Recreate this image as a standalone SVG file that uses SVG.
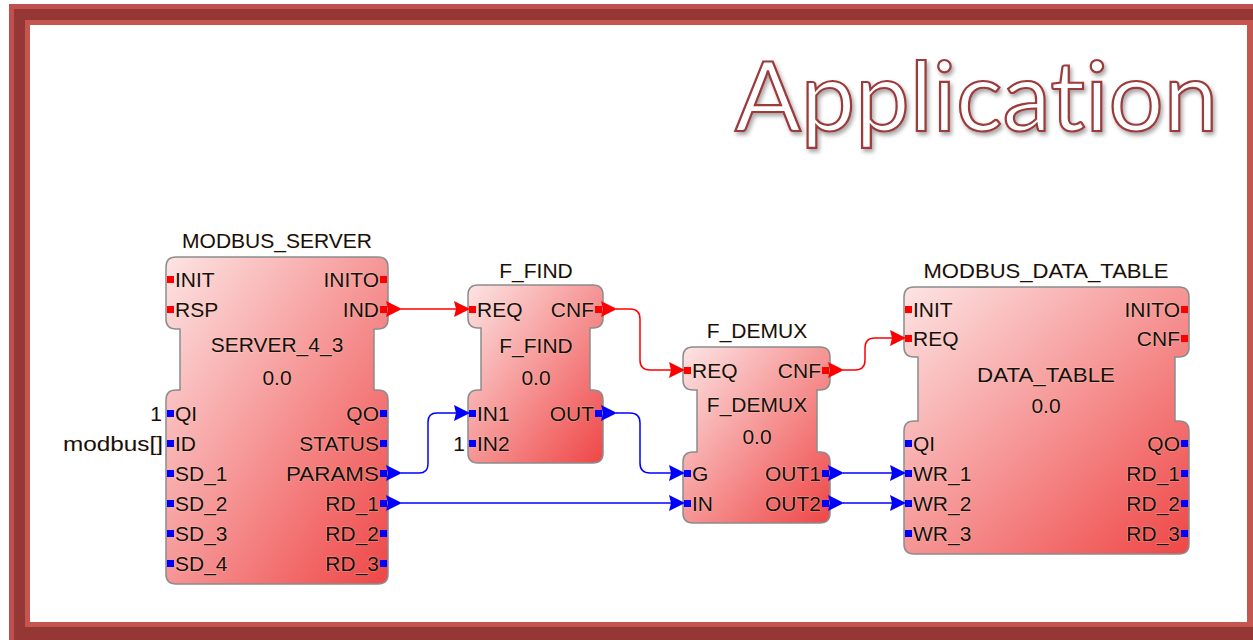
<svg xmlns="http://www.w3.org/2000/svg" xmlns:xlink="http://www.w3.org/1999/xlink" width="1253" height="640" viewBox="0 0 1253 640">
<style>
.t{font-family:"Liberation Sans",Arial,sans-serif;font-size:21px;fill:#161010;stroke:rgba(255,235,190,0.35);stroke-width:1.2px;paint-order:stroke}
.e{text-anchor:end}
.m{text-anchor:middle}
.blk{fill:url(#g);stroke:#8c8c8c;stroke-width:1.5}
.ev{fill:#ff0000}
.dt{fill:#0000ff}
.cr{fill:none;stroke:#ff0000;stroke-width:1.5}
.cb{fill:none;stroke:#0000ff;stroke-width:1.5}
.title{font-family:Lato,"Open Sans",sans-serif;font-weight:400;font-size:96px;fill:#ffffff;stroke:#9b3a3a;stroke-width:2.2;font-variant-ligatures:none;font-feature-settings:"liga" 0}
</style>
<defs>
<linearGradient id="g" x1="0" y1="0" x2="1" y2="1">
<stop offset="0" stop-color="#fde4e4"/>
<stop offset="1" stop-color="#ef4646"/>
</linearGradient>
<filter id="sh" x="-5%" y="-20%" width="115%" height="150%">
<feDropShadow dx="2" dy="3" stdDeviation="2" flood-color="#000" flood-opacity="0.35"/>
</filter>
<path id="ah" d="M-16,-8 L0,0 L-16,8 L-14,0 Z"/>
</defs>

<g id="frame">
<rect x="9" y="4" width="1300" height="700" fill="#c0504d"/>
<rect x="14" y="9" width="1300" height="700" fill="#953735"/>
<rect x="25" y="20" width="1240" height="607" fill="#c4564f"/>
<rect x="30" y="25" width="1217" height="597" fill="#ffffff"/>
</g>

<text id="title" class="title" x="735" y="131" textLength="483" lengthAdjust="spacingAndGlyphs" filter="url(#sh)">Application</text>

<g id="connectors">
<path class="cr" d="M401,309 H456"/>
<path class="cr" d="M616,309 H630 Q640,309 640,319 V360 Q640,370 650,370 H671"/>
<path class="cr" d="M843,370 H855 Q865,370 865,360 V348 Q865,338 875,338 H892"/>
<path class="cb" d="M401,473 H419 Q428,473 428,464 V422 Q428,413 437,413 H456"/>
<path class="cb" d="M401,503 H671"/>
<path class="cb" d="M616,413 H630 Q640,413 640,423 V463 Q640,473 650,473 H671"/>
<path class="cb" d="M843,473 H892"/>
<path class="cb" d="M843,503 H892"/>
</g>

<g id="modbus_server">
<text class="t m" x="277" y="248">MODBUS_SERVER</text>
<path class="blk" d="M176,257 H378 Q388,257 388,267 V319 Q388,329 378,329 H374 V390 H378 Q388,390 388,400 V574 Q388,584 378,584 H176 Q166,584 166,574 V400 Q166,390 176,390 H180 V329 H176 Q166,329 166,319 V267 Q166,257 176,257 Z"/>
<rect class="ev" x="167" y="276" width="7" height="7"/>
<rect class="ev" x="167" y="306" width="7" height="7"/>
<rect class="ev" x="380" y="276" width="7" height="7"/>
<rect class="ev" x="380" y="306" width="7" height="7"/>
<use href="#ah" class="ev" transform="translate(402,309)"/>
<rect class="dt" x="167" y="410" width="7" height="7"/>
<rect class="dt" x="167" y="440" width="7" height="7"/>
<rect class="dt" x="167" y="470" width="7" height="7"/>
<rect class="dt" x="167" y="500" width="7" height="7"/>
<rect class="dt" x="167" y="530" width="7" height="7"/>
<rect class="dt" x="167" y="560" width="7" height="7"/>
<rect class="dt" x="380" y="410" width="7" height="7"/>
<rect class="dt" x="380" y="440" width="7" height="7"/>
<rect class="dt" x="380" y="470" width="7" height="7"/>
<rect class="dt" x="380" y="500" width="7" height="7"/>
<rect class="dt" x="380" y="530" width="7" height="7"/>
<rect class="dt" x="380" y="560" width="7" height="7"/>
<use href="#ah" class="dt" transform="translate(402,473)"/>
<use href="#ah" class="dt" transform="translate(402,503)"/>
<text class="t" x="175" y="287">INIT</text>
<text class="t" x="175" y="317">RSP</text>
<text class="t e" x="379" y="287">INITO</text>
<text class="t e" x="379" y="317">IND</text>
<text class="t m" x="277" y="352">SERVER_4_3</text>
<text class="t m" x="277" y="385">0.0</text>
<text class="t" x="175" y="421">QI</text>
<text class="t" x="175" y="451">ID</text>
<text class="t" x="175" y="481">SD_1</text>
<text class="t" x="175" y="511">SD_2</text>
<text class="t" x="175" y="541">SD_3</text>
<text class="t" x="175" y="571">SD_4</text>
<text class="t e" x="379" y="421">QO</text>
<text class="t e" x="379" y="451">STATUS</text>
<text class="t e" x="379" y="481" textLength="93" lengthAdjust="spacingAndGlyphs">PARAMS</text>
<text class="t e" x="379" y="511">RD_1</text>
<text class="t e" x="379" y="541">RD_2</text>
<text class="t e" x="379" y="571">RD_3</text>
<text class="t e" x="162" y="421">1</text>
<text class="t e" x="163" y="451" textLength="100" lengthAdjust="spacingAndGlyphs">modbus[]</text>
</g>

<g id="f_find">
<text class="t m" x="536" y="278">F_FIND</text>
<path class="blk" d="M478,285 H593 Q603,285 603,295 V318 Q603,328 593,328 H590 V390 H593 Q603,390 603,400 V453 Q603,463 593,463 H478 Q468,463 468,453 V400 Q468,390 478,390 H481 V328 H478 Q468,328 468,318 V295 Q468,285 478,285 Z"/>
<rect class="ev" x="469" y="306" width="7" height="7"/>
<rect class="ev" x="595" y="306" width="7" height="7"/>
<use href="#ah" class="ev" transform="translate(470,309)"/>
<use href="#ah" class="ev" transform="translate(617,309)"/>
<rect class="dt" x="469" y="410" width="7" height="7"/>
<rect class="dt" x="469" y="440" width="7" height="7"/>
<rect class="dt" x="595" y="410" width="7" height="7"/>
<use href="#ah" class="dt" transform="translate(470,413)"/>
<use href="#ah" class="dt" transform="translate(617,413)"/>
<text class="t" x="477" y="317">REQ</text>
<text class="t e" x="594" y="317">CNF</text>
<text class="t m" x="536" y="353">F_FIND</text>
<text class="t m" x="536" y="385">0.0</text>
<text class="t" x="477" y="421">IN1</text>
<text class="t" x="477" y="451">IN2</text>
<text class="t e" x="594" y="421">OUT</text>
<text class="t e" x="465" y="451">1</text>
</g>

<g id="f_demux">
<text class="t m" x="757" y="338">F_DEMUX</text>
<path class="blk" d="M693,347 H820 Q830,347 830,357 V380 Q830,390 820,390 H817 V452 H820 Q830,452 830,462 V513 Q830,523 820,523 H693 Q683,523 683,513 V462 Q683,452 693,452 H697 V390 H693 Q683,390 683,380 V357 Q683,347 693,347 Z"/>
<rect class="ev" x="684" y="367" width="7" height="7"/>
<rect class="ev" x="822" y="367" width="7" height="7"/>
<use href="#ah" class="ev" transform="translate(685,370)"/>
<use href="#ah" class="ev" transform="translate(844,370)"/>
<rect class="dt" x="684" y="470" width="7" height="7"/>
<rect class="dt" x="684" y="500" width="7" height="7"/>
<rect class="dt" x="822" y="470" width="7" height="7"/>
<rect class="dt" x="822" y="500" width="7" height="7"/>
<use href="#ah" class="dt" transform="translate(685,473)"/>
<use href="#ah" class="dt" transform="translate(685,503)"/>
<use href="#ah" class="dt" transform="translate(844,473)"/>
<use href="#ah" class="dt" transform="translate(844,503)"/>
<text class="t" x="692" y="378">REQ</text>
<text class="t e" x="821" y="378">CNF</text>
<text class="t m" x="757" y="412">F_DEMUX</text>
<text class="t m" x="757" y="444">0.0</text>
<text class="t" x="692" y="481">G</text>
<text class="t" x="692" y="511">IN</text>
<text class="t e" x="821" y="481">OUT1</text>
<text class="t e" x="821" y="511">OUT2</text>
</g>

<g id="modbus_data_table">
<text class="t m" x="1046" y="278" textLength="245" lengthAdjust="spacingAndGlyphs">MODBUS_DATA_TABLE</text>
<path class="blk" d="M914,287 H1179 Q1189,287 1189,297 V347 Q1189,357 1179,357 H1175 V421 H1179 Q1189,421 1189,431 V544 Q1189,554 1179,554 H914 Q904,554 904,544 V431 Q904,421 914,421 H918 V357 H914 Q904,357 904,347 V297 Q904,287 914,287 Z"/>
<rect class="ev" x="905" y="306" width="7" height="7"/>
<rect class="ev" x="905" y="335" width="7" height="7"/>
<rect class="ev" x="1181" y="306" width="7" height="7"/>
<rect class="ev" x="1181" y="335" width="7" height="7"/>
<use href="#ah" class="ev" transform="translate(906,338)"/>
<rect class="dt" x="905" y="440" width="7" height="7"/>
<rect class="dt" x="905" y="470" width="7" height="7"/>
<rect class="dt" x="905" y="500" width="7" height="7"/>
<rect class="dt" x="905" y="530" width="7" height="7"/>
<rect class="dt" x="1181" y="440" width="7" height="7"/>
<rect class="dt" x="1181" y="470" width="7" height="7"/>
<rect class="dt" x="1181" y="500" width="7" height="7"/>
<rect class="dt" x="1181" y="530" width="7" height="7"/>
<use href="#ah" class="dt" transform="translate(906,473)"/>
<use href="#ah" class="dt" transform="translate(906,503)"/>
<text class="t" x="913" y="317">INIT</text>
<text class="t" x="913" y="346">REQ</text>
<text class="t e" x="1180" y="317">INITO</text>
<text class="t e" x="1180" y="346">CNF</text>
<text class="t m" x="1046" y="382" textLength="138" lengthAdjust="spacingAndGlyphs">DATA_TABLE</text>
<text class="t m" x="1046" y="413">0.0</text>
<text class="t" x="913" y="451">QI</text>
<text class="t" x="913" y="481">WR_1</text>
<text class="t" x="913" y="511">WR_2</text>
<text class="t" x="913" y="541">WR_3</text>
<text class="t e" x="1180" y="451">QO</text>
<text class="t e" x="1180" y="481">RD_1</text>
<text class="t e" x="1180" y="511">RD_2</text>
<text class="t e" x="1180" y="541">RD_3</text>
</g>
</svg>
